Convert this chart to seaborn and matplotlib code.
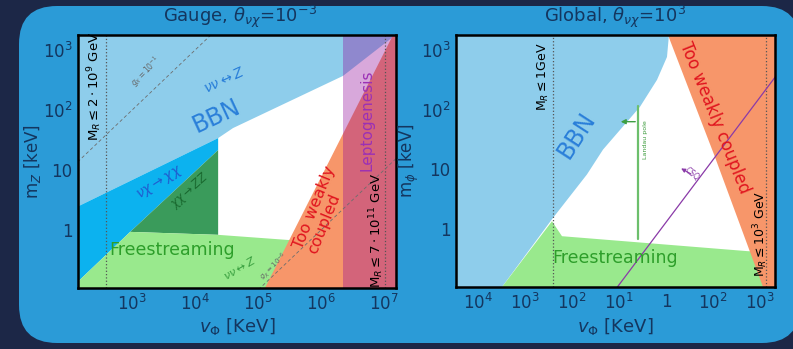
import numpy as np
import pandas as pd
import matplotlib
matplotlib.use("Agg")
import matplotlib.pyplot as plt
import seaborn as sns
from matplotlib.patches import FancyBboxPatch
from matplotlib.ticker import FixedLocator, FixedFormatter, LogLocator, NullFormatter

sns.set_theme(style="ticks")
plt.rcParams["font.family"] = ["DejaVu Sans"]
plt.rcParams["mathtext.fontset"] = "dejavusans"

# ---------------- common axis settings ----------------
m_lim = (10**-0.967, 10**3.25)
m_ticks = [1, 10, 100, 1000]
m_ticklabels = ["1", "10", "$10^2$", "$10^3$"]

# ---------------- Gauge case (v_Phi, m_Z in keV) ----------------
gauge_vlim = (10**2.14, 10**7.19)
gauge_vticks = [1e3, 1e4, 1e5, 1e6, 1e7]
gauge_vticklabels = ["$10^3$", "$10^4$", "$10^5$", "$10^6$", "$10^7$"]

# BBN lower boundary
gauge_bbn_v = [120, 2.32e4, 4.0e4, 2.23e6, 1.39e7, 1.5e7]
gauge_bbn_m = [2.3, 34, 50, 370, 1650, 2000]
# nu chi -> chi chi
gauge_nuchi_v = [120, 2.32e4, 2.32e4, 930, 120]
gauge_nuchi_m = [2.3, 34, 21.5, 0.93, 0.12]
# chi chi -> Z Z
gauge_zz_v = [930, 2.32e4, 2.32e4]
gauge_zz_m = [0.93, 21.5, 0.83]
# free-streaming upper edge
gauge_fs_v = [120, 930, 2.32e4, 3.1e5, 1.0e6]
gauge_fs_m = [0.12, 0.93, 0.83, 0.68, 0.62]
# too-weakly-coupled edge
gauge_twc_v = [1.24e5, 1.47e7]
gauge_twc_m = [0.1, 2000]
# leptogenesis lower edge in v_Phi
gauge_lepto_v = 2.23e6
# M_R bounds
gauge_mr_v = [386, 1.04e7]
# gauge coupling contours m_Z = g v_Phi
gauge_g = [1e-1, 1e-6]
gauge_g_v = [100, 3e7]

# ---------------- Global case (v_Phi, m_phi in keV) ----------------
global_vlim = (10**-4.468, 10**2.319)
global_vticks = [1e-4, 1e-3, 1e-2, 1e-1, 1, 10, 100]
global_vticklabels = ["$10^4$", "$10^3$", "$10^2$", "$10^1$", "1", "$10^2$", "$10^3$"]

global_bbn_v = [3.24e-4, 3.75e-3, 0.0208, 0.0457, 0.280, 0.644, 1.05, 1.17]
global_bbn_m = [0.108, 1.47, 8.25, 21.5, 112, 316, 764, 2000]
global_fs_v = [3.24e-4, 3.75e-3, 6.12e-3, 52.9, 163]
global_fs_m = [0.108, 1.36, 0.764, 0.43, 0.41]
global_twc_v = [1.04, 10.5, 120]
global_twc_m = [2000, 17.8, 0.1]
global_mr_v = [0.0040, 134]
# green bound and its arrow
global_green_v = 0.254
global_green_m = [0.68, 117]
global_green_arrow = (63, 0.095)
# purple line
global_purple_v = [0.09, 215]
global_purple_m = [0.105, 360]

# ---------------- colours ----------------
BG = "#1c2747"
PANEL = "#2b9bd7"
TXT = "#14365f"
C_BBN = "#8ecdeb"
C_NUCHI = "#0cb2ef"
C_ZZ = "#3a9b5b"
C_FS = "#99e98d"
C_TWC = "#f7966a"
C_LEPTO = (0.57, 0.03, 0.60)

fig = plt.figure(figsize=(7.93, 3.49), dpi=100)
fig.patch.set_facecolor(BG)

bg = fig.add_axes([0, 0, 1, 1], zorder=-5)
bg.set_xlim(0, 793)
bg.set_ylim(349, 0)
bg.axis("off")
bg.add_patch(FancyBboxPatch((19, 6), 800 - 19, 343 - 6,
                            boxstyle="round,pad=0,rounding_size=38",
                            fc=PANEL, ec="none"))

axL = fig.add_axes([78 / 793, 61 / 349, 318 / 793, 253 / 349])
axR = fig.add_axes([456 / 793, 62 / 349, 319 / 793, 252 / 349])


def style(ax, vlim, vticks, vlabels):
    ax.set_xscale("log")
    ax.set_yscale("log")
    ax.set_xlim(vlim)
    ax.set_ylim(m_lim)
    ax.set_facecolor("white")
    for s in ax.spines.values():
        s.set_linewidth(1.8)
        s.set_color("black")
        s.set_zorder(10)
    ax.xaxis.set_major_locator(FixedLocator(vticks))
    ax.xaxis.set_major_formatter(FixedFormatter(vlabels))
    ax.yaxis.set_major_locator(FixedLocator(m_ticks))
    ax.yaxis.set_major_formatter(FixedFormatter(m_ticklabels))
    ax.xaxis.set_minor_locator(LogLocator(base=10, subs=np.arange(2, 10), numticks=30))
    ax.yaxis.set_minor_locator(LogLocator(base=10, subs=np.arange(2, 10), numticks=30))
    ax.xaxis.set_minor_formatter(NullFormatter())
    ax.yaxis.set_minor_formatter(NullFormatter())
    ax.tick_params(which="both", direction="in", top=True, right=True,
                   color="black", zorder=11)
    ax.tick_params(which="major", length=6, width=1.2, labelsize=12,
                   labelcolor=TXT, pad=4)
    ax.tick_params(which="minor", length=3, width=0.8)


def draw_line(ax, v, m, **kw):
    df = pd.DataFrame({"v": v, "m": m})
    sns.lineplot(data=df, x="v", y="m", ax=ax, estimator=None, sort=False,
                 errorbar=None, **kw)


# ======================= Gauge panel =======================
ax = axL
style(ax, gauge_vlim, gauge_vticks, gauge_vticklabels)
top = 5000
ax.fill(gauge_bbn_v + [gauge_bbn_v[-1], gauge_bbn_v[0]],
        gauge_bbn_m + [top, top], color=C_BBN, lw=0, zorder=1)
ax.fill(gauge_nuchi_v, gauge_nuchi_m, color=C_NUCHI, lw=0, zorder=2)
ax.fill(gauge_zz_v, gauge_zz_m, color=C_ZZ, lw=0, zorder=2)
ax.fill(gauge_fs_v + [gauge_fs_v[-1], gauge_fs_v[0]],
        gauge_fs_m + [0.01, 0.01], color=C_FS, lw=0, zorder=2)
ax.fill(gauge_twc_v + [1e9, 1e9], gauge_twc_m + [gauge_twc_m[-1], gauge_twc_m[0]],
        color=C_TWC, lw=0, zorder=3)
ax.axvspan(gauge_lepto_v, 1e9, color=C_LEPTO, alpha=0.35, lw=0, zorder=4)
for v in gauge_mr_v:
    ax.axvline(v, color="#555555", ls=":", lw=0.9, zorder=5)
for g in gauge_g:
    draw_line(ax, gauge_g_v, [g * v for v in gauge_g_v], color="#6d6d6d",
              ls=(0, (4, 3)), lw=0.6, zorder=6)
ax.set_xlabel(r"$v_\Phi$ [KeV]", fontsize=13, color=TXT)
ax.set_ylabel(r"m$_Z$ [keV]", fontsize=12, color=TXT)
ax.xaxis.set_label_coords(0.5, -0.11)
ax.yaxis.set_label_coords(-0.11, 0.5)

T = ax.transAxes
ax.text(0.053, 0.798, r"M$_R\leq 2\cdot10^9$ GeV", rotation=90, fontsize=9.5,
        color="black", ha="center", va="center", transform=T, zorder=8)
ax.text(0.215, 0.855, r"$g_X=10^{-1}$", rotation=45, fontsize=5.5,
        color="#666666", ha="center", va="center", transform=T, zorder=8)
ax.text(0.462, 0.822, r"$\nu\nu\leftrightarrow Z$", rotation=25, fontsize=10,
        color="#2a7fd9", ha="center", va="center", transform=T, zorder=8)
ax.text(0.434, 0.68, "BBN", rotation=25, fontsize=17,
        color="#2a7fd9", ha="center", va="center", transform=T, zorder=8)
ax.text(0.258, 0.415, r"$\nu\chi\rightarrow\chi\chi$", rotation=32, fontsize=10,
        color="#1f5fd0", ha="center", va="center", transform=T, zorder=8)
ax.text(0.352, 0.387, r"$\chi\chi\rightarrow ZZ$", rotation=42, fontsize=8.5,
        color="#1a6a30", ha="center", va="center", transform=T, zorder=8)
ax.text(0.296, 0.15, "Freestreaming", fontsize=12.5,
        color="#2d9e2a", ha="center", va="center", transform=T, zorder=8)
ax.text(0.509, 0.079, r"$\nu\nu\leftrightarrow Z$", rotation=30, fontsize=8,
        color="#3aa040", ha="center", va="center", transform=T, zorder=8)
ax.text(0.615, 0.085, r"$g_X=10^{-6}$", rotation=45, fontsize=5,
        color="#666666", ha="center", va="center", transform=T, zorder=8)
ax.text(0.767, 0.308, "Too weakly\ncoupled", rotation=68, fontsize=11.5,
        color="#e0141e", ha="center", va="center", multialignment="left",
        linespacing=1.0, transform=T, zorder=8)
ax.text(0.909, 0.664, "Leptogenesis", rotation=90, fontsize=11,
        color="#9b30b5", ha="center", va="center", transform=T, zorder=8)
ax.text(0.94, 0.229, r"M$_R\leq 7\cdot10^{11}$ GeV", rotation=90, fontsize=9.5,
        color="black", ha="center", va="center", transform=T, zorder=8)

# ======================= Global panel =======================
ax = axR
style(ax, global_vlim, global_vticks, global_vticklabels)
ax.fill(global_bbn_v + [1e-6, 1e-6], global_bbn_m + [top, 0.01],
        color=C_BBN, lw=0, zorder=1)
ax.fill(global_fs_v + [global_fs_v[-1], global_fs_v[0]],
        global_fs_m + [0.01, 0.01], color=C_FS, lw=0, zorder=2)
ax.fill(global_twc_v + [1e4, 1e4], global_twc_m + [global_twc_m[-1], global_twc_m[0]],
        color=C_TWC, lw=0, zorder=3)
for v in global_mr_v:
    ax.axvline(v, color="#555555", ls=":", lw=0.9, zorder=5)
draw_line(ax, [global_green_v] * 2, global_green_m, color="#6cbf6c", lw=1.6, zorder=6)
ax.annotate("", xy=(global_green_arrow[1], global_green_arrow[0]),
            xytext=(global_green_v, global_green_arrow[0]),
            arrowprops=dict(arrowstyle="-|>", color="#3d9e41", lw=1.0,
                            mutation_scale=7), zorder=6)
draw_line(ax, global_purple_v, global_purple_m, color="#8a3aa8", lw=0.9, zorder=6)
ax.annotate("CSQ", xy=(2.1, 10.4), xytext=(3.6, 8.2), fontsize=5.5,
            color="#8a3aa8", rotation=-38, ha="center", va="center",
            arrowprops=dict(arrowstyle="-|>", color="#8a3aa8", lw=0.8,
                            mutation_scale=6, shrinkA=1, shrinkB=0), zorder=7)
ax.set_xlabel(r"$v_\Phi$ [KeV]", fontsize=13, color=TXT)
ax.set_ylabel(r"m$_\phi$ [keV]", fontsize=12, color=TXT)
ax.xaxis.set_label_coords(0.5, -0.115)
ax.yaxis.set_label_coords(-0.11, 0.5)

T = ax.transAxes
ax.text(0.273, 0.833, r"M$_R\leq 1$GeV", rotation=90, fontsize=9,
        color="black", ha="center", va="center", transform=T, zorder=8)
ax.text(0.379, 0.603, "BBN", rotation=57, fontsize=17,
        color="#2a7fd9", ha="center", va="center", transform=T, zorder=8)
ax.text(0.595, 0.583, "Landau pole", rotation=90, fontsize=4.5,
        color="#3a9a3a", ha="center", va="center", transform=T, zorder=8)
ax.text(0.812, 0.67, "Too weakly coupled", rotation=-68, fontsize=12,
        color="#e0141e", ha="center", va="center", transform=T, zorder=8)
ax.text(0.498, 0.115, "Freestreaming", fontsize=12.5,
        color="#2d9e2a", ha="center", va="center", transform=T, zorder=8)
ax.text(0.956, 0.21, r"M$_R\leq 10^3$ GeV", rotation=90, fontsize=9,
        color="black", ha="center", va="center", transform=T, zorder=8)

# ======================= titles =======================
fig.text(240 / 793, 1 - 17 / 349, r"Gauge, $\theta_{\nu\chi}$=10$^{-3}$",
         fontsize=13, color=TXT, ha="center", va="center")
fig.text(615 / 793, 1 - 17 / 349, r"Global, $\theta_{\nu\chi}$=10$^{3}$",
         fontsize=13, color=TXT, ha="center", va="center")

fig.savefig("out.png", dpi=100, facecolor=fig.get_facecolor())
